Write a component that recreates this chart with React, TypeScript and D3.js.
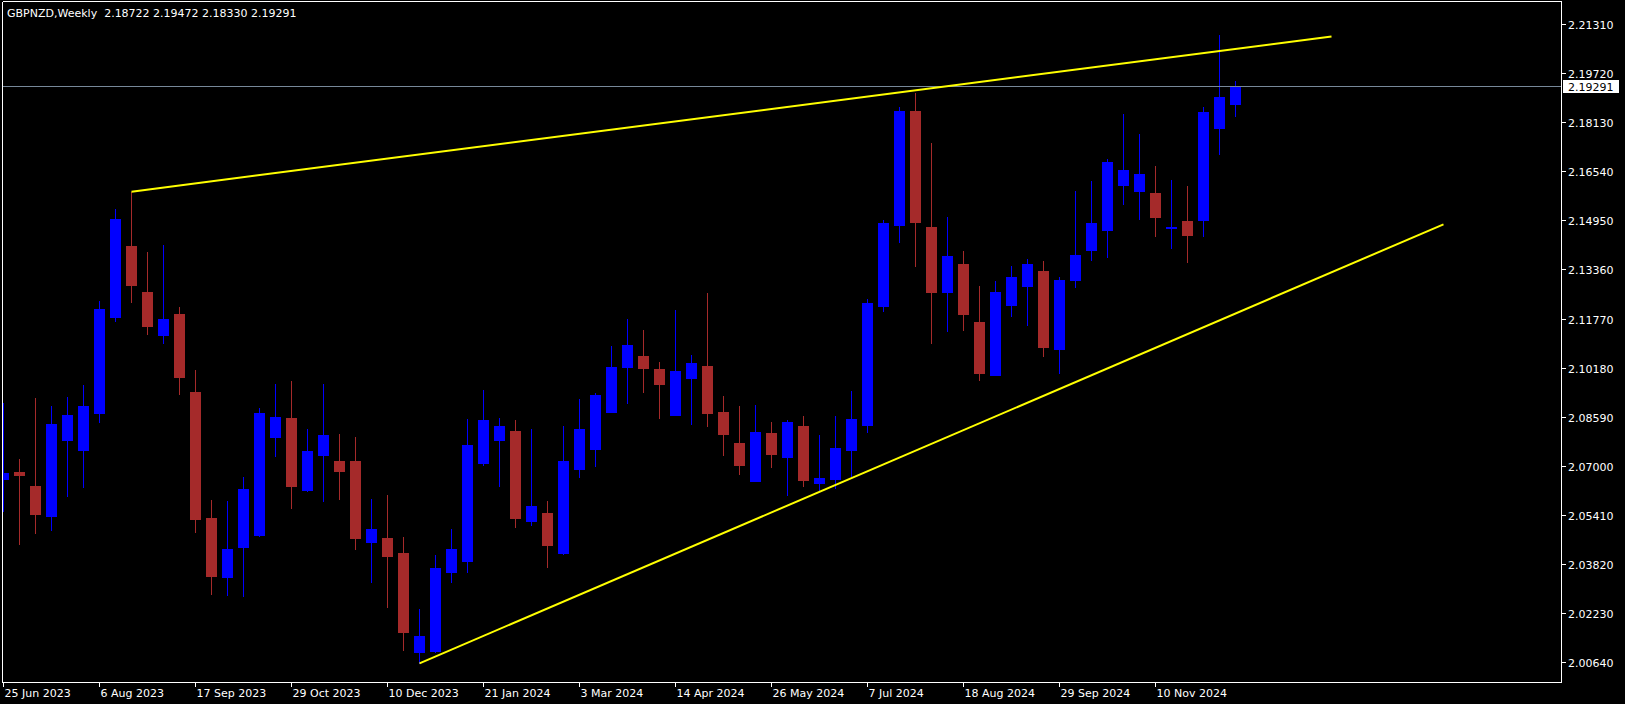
import React from "react";
import * as d3 from "d3";

const symbolTitle = "GBPNZD,Weekly  2.18722 2.19472 2.18330 2.19291";
const lastPrice = 2.19291;

const opens = [
  2.06574, 2.06801, 2.06348, 2.05386, 2.07847, 2.07523, 2.08712, 2.1183, 2.1412, 2.1263,
  2.11247, 2.11917, 2.09392, 2.05311, 2.03401, 2.04372, 2.0477, 2.07944, 2.0855, 2.06228,
  2.07351, 2.07157, 2.07157, 2.04544, 2.04664, 2.04178, 2.00982, 2.01004, 2.03572, 2.03919,
  2.07092, 2.07847, 2.08129, 2.05224, 2.05473, 2.04178, 2.06898, 2.07546, 2.08754, 2.10201,
  2.10557, 2.10136, 2.08647, 2.09845, 2.10234, 2.08744, 2.0774, 2.0651, 2.08064, 2.07287,
  2.08291, 2.06445, 2.06574, 2.07513, 2.08323, 2.12186, 2.14809, 2.18491, 2.14735, 2.1264,
  2.13537, 2.11658, 2.09952, 2.12219, 2.12834, 2.1331, 2.10794, 2.13019, 2.14, 2.14647,
  2.16095, 2.159, 2.15836, 2.14712, 2.14929, 2.14971, 2.1795, 2.18722,
];
const highs = [
  2.09026, 2.07222, 2.09197, 2.08938, 2.0922, 2.09618, 2.12338, 2.15318, 2.15878, 2.13925,
  2.14152, 2.12144, 2.10104, 2.05894, 2.05862, 2.06639, 2.08873, 2.09651, 2.09748, 2.08193,
  2.0966, 2.08031, 2.07934, 2.05927, 2.06056, 2.04696, 2.02364, 2.04113, 2.04955, 2.08517,
  2.09456, 2.0855, 2.08485, 2.08193, 2.05862, 2.083, 2.09165, 2.09359, 2.10891, 2.11756,
  2.11399, 2.10363, 2.12047, 2.1059, 2.12598, 2.09262, 2.08938, 2.08971, 2.0842, 2.08485,
  2.08614, 2.07999, 2.08614, 2.09424, 2.12403, 2.14961, 2.18621, 2.19074, 2.17455, 2.15059,
  2.13958, 2.12824, 2.12986, 2.13472, 2.13699, 2.13634, 2.13116, 2.159, 2.16224, 2.16937,
  2.18394, 2.17746, 2.1671, 2.16257, 2.16062, 2.18621, 2.20952, 2.19472,
];
const lows = [
  2.05548, 2.04469, 2.04835, 2.04923, 2.06033, 2.06325, 2.0843, 2.117, 2.12316, 2.1128,
  2.10988, 2.09337, 2.04868, 2.0285, 2.02818, 2.02785, 2.04728, 2.07329, 2.05645, 2.06195,
  2.05872, 2.05936, 2.04317, 2.03249, 2.02439, 2.01046, 2.00606, 2.00982, 2.03249, 2.03572,
  2.07028, 2.06357, 2.0503, 2.05085, 2.03734, 2.04146, 2.06639, 2.07005, 2.08754, 2.09035,
  2.09392, 2.0855, 2.08647, 2.08355, 2.08291, 2.07351, 2.06736, 2.0651, 2.06963, 2.06056,
  2.06348, 2.06186, 2.06283, 2.06671, 2.08096, 2.12024, 2.14259, 2.13481, 2.10988, 2.11377,
  2.11409, 2.0978, 2.09952, 2.11862, 2.11571, 2.10567, 2.10017, 2.12792, 2.13676, 2.13763,
  2.15489, 2.15004, 2.14453, 2.14064, 2.13611, 2.14453, 2.17108, 2.1833,
];
const closes = [
  2.06759, 2.06713, 2.05451, 2.08355, 2.08647, 2.08938, 2.12079, 2.14994, 2.12866, 2.11539,
  2.11756, 2.09887, 2.05289, 2.03443, 2.04307, 2.0625, 2.08712, 2.08582, 2.06357, 2.07481,
  2.07999, 2.06833, 2.04673, 2.04955, 2.0409, 2.01629, 2.015, 2.03692, 2.04307, 2.07675,
  2.08485, 2.08291, 2.05321, 2.057, 2.04437, 2.07157, 2.08193, 2.09294, 2.10201, 2.10914,
  2.10169, 2.09651, 2.10072, 2.10331, 2.08712, 2.08031, 2.07028, 2.08096, 2.07384, 2.0842,
  2.06542, 2.06607, 2.07578, 2.08517, 2.12274, 2.14864, 2.18491, 2.14906, 2.1264, 2.13796,
  2.11927, 2.10017, 2.1263, 2.13116, 2.13537, 2.10859, 2.13019, 2.13828, 2.14864, 2.1684,
  2.16581, 2.16451, 2.15059, 2.14735, 2.14476, 2.18459, 2.18944, 2.19291,
];

const priceTicks = [
  2.2131, 2.1972, 2.1813, 2.1654, 2.1495, 2.1336, 2.1177, 2.1018, 2.0859, 2.07, 2.0541,
  2.0382, 2.0223, 2.0064,
];
const dateLabels = [
  "25 Jun 2023", "6 Aug 2023", "17 Sep 2023", "29 Oct 2023", "10 Dec 2023", "21 Jan 2024",
  "3 Mar 2024", "14 Apr 2024", "26 May 2024", "7 Jul 2024", "18 Aug 2024", "29 Sep 2024",
  "10 Nov 2024",
];
const dateLabelBars = [0, 6, 12, 18, 24, 30, 36, 42, 48, 54, 60, 66, 72];

// trendlines: [barIndex, price] pairs
const upperTrend = [[8, 2.15878], [83, 2.20904]];
const lowerTrend = [[26, 2.00606], [90, 2.14822]];

const W = 1625;
const H = 704;
const LEFT = 2.5;
const RIGHT = 1561.5;
const TOP = 1.5;
const BOTTOM = 682.5;
const FONT = "'DejaVu Sans', Verdana, sans-serif";

export default function App() {
  const x = d3.scaleLinear().domain([0, 100]).range([3, 1603]);
  const y = d3.scaleLinear().domain([2.0064, 2.2131]).range([662.25, 23.95]);
  const line = d3
    .line<number[]>()
    .x((d) => x(d[0]) + 0.5)
    .y((d) => y(d[1]));

  return (
    <svg
      width={W}
      height={H}
      style={{ position: "absolute", left: 0, top: 0, display: "block" }}
    >
      <defs>
        <clipPath id="plot">
          <rect x={3} y={2} width={RIGHT - 3} height={BOTTOM - 2} />
        </clipPath>
      </defs>
      <rect x={0} y={0} width={W} height={H} fill="#000" />

      <g clipPath="url(#plot)" shapeRendering="crispEdges">
        {opens.map((o, i) => {
          const c = closes[i];
          const bull = c >= o;
          const col = bull ? "#0000FF" : "#A52A2A";
          const yt = Math.round(y(Math.max(o, c)));
          const yb = Math.round(y(Math.min(o, c)));
          const yh = Math.round(y(highs[i]));
          const yl = Math.round(y(lows[i]));
          const cx = x(i);
          return (
            <g key={i}>
              <rect x={cx} y={yh} width={1} height={Math.max(1, yl - yh + 1)} fill={col} />
              <rect x={cx - 5} y={yt} width={11} height={Math.max(1, yb - yt + 1)} fill={col} />
            </g>
          );
        })}
        <line
          x1={LEFT}
          x2={RIGHT}
          y1={Math.round(y(lastPrice)) + 0.5}
          y2={Math.round(y(lastPrice)) + 0.5}
          stroke="#778899"
          strokeWidth={1}
        />
      </g>

      <g clipPath="url(#plot)">
        <path d={line(upperTrend) || ""} stroke="#FFFF00" strokeWidth={2} fill="none" />
        <path d={line(lowerTrend) || ""} stroke="#FFFF00" strokeWidth={2} fill="none" />
      </g>

      {/* frame */}
      <g shapeRendering="crispEdges" stroke="#FFFFFF" strokeWidth={1} fill="none">
        <line x1={LEFT} x2={LEFT} y1={TOP} y2={BOTTOM} />
        <line x1={RIGHT} x2={RIGHT} y1={TOP} y2={BOTTOM} />
        <line x1={LEFT} x2={RIGHT} y1={TOP} y2={TOP} />
        <line x1={LEFT} x2={RIGHT} y1={BOTTOM} y2={BOTTOM} />
      </g>

      {/* price axis */}
      <g fontFamily={FONT} fontSize={11} fill="#FFFFFF">
        {priceTicks.map((p) => {
          const yy = Math.round(y(p)) + 0.5;
          return (
            <g key={p}>
              <line x1={RIGHT} x2={RIGHT + 4} y1={yy} y2={yy} stroke="#FFFFFF" shapeRendering="crispEdges" />
              <text x={1568} y={yy + 4}>{p.toFixed(5)}</text>
            </g>
          );
        })}
        <rect
          x={1563}
          y={Math.round(y(lastPrice)) - 6}
          width={56}
          height={13}
          fill="#FFFFFF"
          shapeRendering="crispEdges"
        />
        <text x={1568} y={Math.round(y(lastPrice)) + 4.5} fill="#000000">
          {lastPrice.toFixed(5)}
        </text>
      </g>

      {/* time axis */}
      <g fontFamily={FONT} fontSize={11} fill="#FFFFFF">
        {dateLabels.map((lab, k) => {
          const xx = x(dateLabelBars[k]) + 0.5;
          return (
            <g key={lab}>
              <line x1={xx} x2={xx} y1={BOTTOM} y2={BOTTOM + 4} stroke="#FFFFFF" shapeRendering="crispEdges" />
              <text x={xx + 1} y={697}>{lab}</text>
            </g>
          );
        })}
      </g>

      <text x={7} y={17} fontFamily={FONT} fontSize={11} fill="#FFFFFF">
        {symbolTitle.replace("  ", "\u00a0 ")}
      </text>
    </svg>
  );
}
